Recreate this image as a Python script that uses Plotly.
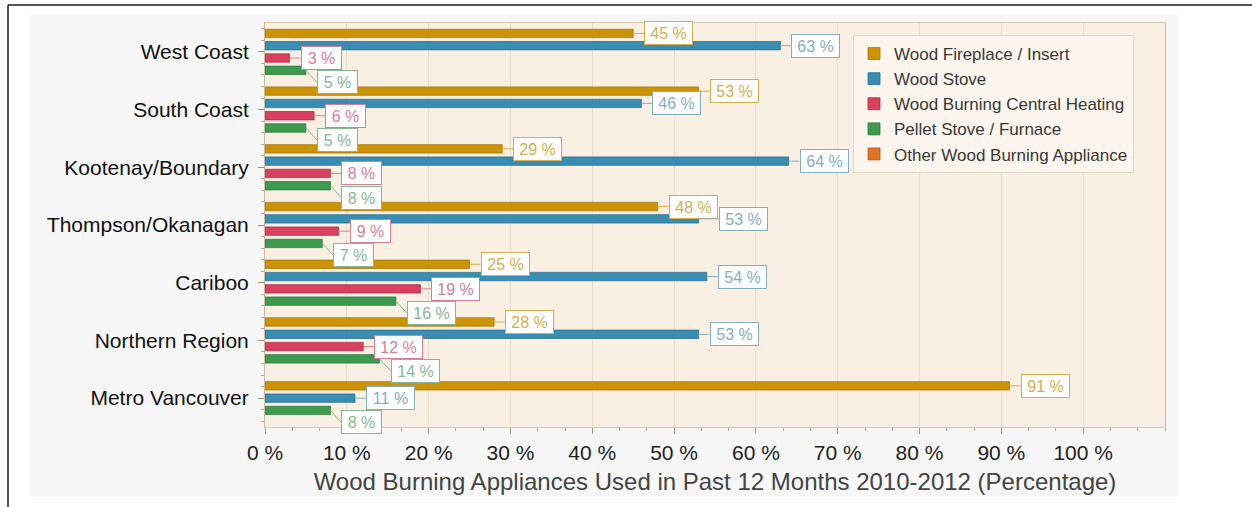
import plotly.graph_objects as go

# ---- data -------------------------------------------------------------
regions = [
    "West Coast",
    "South Coast",
    "Kootenay/Boundary",
    "Thompson/Okanagan",
    "Cariboo",
    "Northern Region",
    "Metro Vancouver",
]
fireplace = [45, 53, 29, 48, 25, 28, 91]
wood_stove = [63, 46, 64, 53, 54, 53, 11]
central_heating = [3, 6, 8, 9, 19, 12, None]
pellet = [5, 5, 8, 7, 16, 14, 8]
other = [None, None, None, None, None, None, None]

series_names = [
    "Wood Fireplace / Insert",
    "Wood Stove",
    "Wood Burning Central Heating",
    "Pellet Stove / Furnace",
    "Other Wood Burning Appliance",
]
series_values = [fireplace, wood_stove, central_heating, pellet, other]

x_tick_values = [0, 10, 20, 30, 40, 50, 60, 70, 80, 90, 100]
x_tick_labels = [f"{t} %" for t in x_tick_values]
x_title = "Wood Burning Appliances Used in Past 12 Months 2010-2012 (Percentage)"

# ---- styling ----------------------------------------------------------
bar_colors = ["#CC9306", "#3A8DB2", "#D93F5E", "#3E9A4F", "#E0702A"]
bar_edges = ["#A87A05", "#2D7392", "#B32F4B", "#2F7D3D", "#B85A20"]
label_colors = ["#D3AF4E", "#86AEC1", "#D4809A", "#88B596", "#E0A070"]
# how a value box moves when it would collide with a box above it
label_nudge = ["right", "right", "right", "down", "down"]

FONT = "Liberation Sans, Arial, sans-serif"
LABEL_SIZE = 16

W, H = 1252, 507
M_L, M_R, M_T, M_B = 265, 87, 23, 80
X_MAX = 110
plot_w = W - M_L - M_R
plot_h = H - M_T - M_B
px_per_x = plot_w / X_MAX
px_per_y = plot_h / len(regions)

SLOT = 0.213     # distance between neighbouring bars of one region (axis units)
BAR_W = 0.145    # bar thickness (axis units)


def paper_x(px):
    return (px - M_L) / plot_w


def paper_y(py):
    return (H - M_B - py) / plot_h


def text_width(s, size):
    # Arial/Liberation Sans advance widths for the characters used in value labels
    widths = {"%": 0.889, " ": 0.278}
    return sum(widths.get(ch, 0.556) for ch in s) * size


positions = list(range(len(regions)))

# bars present in a region are packed together and centred on the region
offsets = [[0.0] * len(regions) for _ in series_values]
centres = [[float(i) for i in positions] for _ in series_values]
for i in positions:
    present = [k for k, vals in enumerate(series_values) if vals[i] is not None]
    n = len(present)
    for slot, k in enumerate(present):
        c = (slot - (n - 1) / 2) * SLOT
        offsets[k][i] = c - BAR_W / 2
        centres[k][i] = i + c

fig = go.Figure()
for k, (name, vals) in enumerate(zip(series_names, series_values)):
    fig.add_trace(
        go.Bar(
            name=name,
            x=vals,
            y=positions,
            orientation="h",
            offset=offsets[k],
            width=BAR_W,
            marker=dict(color=bar_colors[k], line=dict(color=bar_edges[k], width=0.8)),
            hoverinfo="x+name",
        )
    )

# ---- value boxes ------------------------------------------------------
def overlaps(a, b):
    return a[0] < b[2] and b[0] < a[2] and a[1] < b[3] and b[1] < a[3]


annotations = []
BOX_H = 24
for i in positions:
    placed = []
    for k, vals in enumerate(series_values):
        v = vals[i]
        if v is None:
            continue
        text = f"{v} %"
        inner_w = round(text_width(text, LABEL_SIZE) + 9)
        box_w = inner_w + 4
        tip_x, tip_y = v * px_per_x, centres[k][i] * px_per_y
        ax, ay = 11, 0

        def box(ax, ay):
            return (tip_x + ax, tip_y + ay - BOX_H / 2,
                    tip_x + ax + box_w, tip_y + ay + BOX_H / 2)

        while any(overlaps(box(ax, ay), b) for b in placed):
            if label_nudge[k] == "down":
                ay += 1
            else:
                ax += 1
        placed.append(box(ax, ay))
        annotations.append(
            dict(
                x=v, y=centres[k][i], xref="x", yref="y",
                text=text, showarrow=True, arrowhead=0, arrowwidth=1,
                arrowcolor=label_colors[k], ax=ax, ay=ay,
                xanchor="left", yanchor="middle",
                bgcolor="#FFFFFF", bordercolor=label_colors[k],
                borderwidth=1, borderpad=1,
                width=inner_w, height=BOX_H - 4, align="center",
                font=dict(family=FONT, size=LABEL_SIZE, color=label_colors[k]),
            )
        )

# ---- page frame -------------------------------------------------------
frame = dict(color="#1E1E1E", width=1.5)
shapes = [
    # white margins around the light panel
    dict(type="rect", xref="paper", yref="paper", layer="below",
         x0=paper_x(0), x1=paper_x(W), y0=paper_y(0), y1=paper_y(14),
         fillcolor="#FFFFFF", line=dict(width=0)),
    dict(type="rect", xref="paper", yref="paper", layer="below",
         x0=paper_x(0), x1=paper_x(30), y0=paper_y(H), y1=paper_y(0),
         fillcolor="#FFFFFF", line=dict(width=0)),
    dict(type="rect", xref="paper", yref="paper", layer="below",
         x0=paper_x(0), x1=paper_x(W), y0=paper_y(H), y1=paper_y(497),
         fillcolor="#FFFFFF", line=dict(width=0)),
    dict(type="rect", xref="paper", yref="paper", layer="below",
         x0=paper_x(1178), x1=paper_x(W), y0=paper_y(H), y1=paper_y(0),
         fillcolor="#FFFFFF", line=dict(width=0)),
    dict(type="line", xref="paper", yref="paper",
         x0=paper_x(8), x1=paper_x(W), y0=paper_y(5), y1=paper_y(5), line=frame),
    dict(type="line", xref="paper", yref="paper",
         x0=paper_x(8), x1=paper_x(8), y0=paper_y(5), y1=paper_y(H), line=frame),
]

fig.update_layout(
    width=W,
    height=H,
    margin=dict(l=M_L, r=M_R, t=M_T, b=M_B, pad=0),
    autosize=False,
    barmode="overlay",
    paper_bgcolor="#F7F7F7",
    plot_bgcolor="#FAEFE3",
    font=dict(family=FONT, color="#222222"),
    showlegend=True,
    legend=dict(
        x=paper_x(853), y=paper_y(35), xanchor="left", yanchor="top",
        bgcolor="#FCF6EE", bordercolor="#E2D8C6", borderwidth=1,
        font=dict(family=FONT, size=17, color="#383838"),
        traceorder="normal", tracegroupgap=0,
    ),
    xaxis=dict(
        range=[0, X_MAX],
        tickmode="array",
        tickvals=x_tick_values,
        ticktext=x_tick_labels,
        showgrid=True, gridcolor="#EADFCC", gridwidth=1,
        zeroline=False,
        showline=True, linecolor="#D9CBB0", linewidth=1, mirror=True,
        ticks="outside", ticklen=6, tickcolor="#A89E8A",
        minor=dict(dtick=10 / 3, tick0=0, ticks="outside", ticklen=3,
                   tickcolor="#B5AB98", showgrid=False),
        tickfont=dict(family=FONT, size=21, color="#222222"),
        ticklabelstandoff=1,
        title=dict(text=x_title, standoff=9,
                   font=dict(family=FONT, size=24, color="#444444")),
        fixedrange=True,
    ),
    yaxis=dict(
        range=[len(regions) - 0.5, -0.5],
        tickmode="array",
        tickvals=positions,
        ticktext=regions,
        showgrid=False, zeroline=False,
        showline=True, linecolor="#C9BCA2", linewidth=1, mirror=True,
        ticks="outside", ticklen=6, tickcolor="#9A9080",
        minor=dict(dtick=0.2, tick0=0, ticks="outside", ticklen=3,
                   tickcolor="#B0A692", showgrid=False),
        tickfont=dict(family=FONT, size=21, color="#111111"),
        ticklabelstandoff=5,
        fixedrange=True,
    ),
    annotations=annotations,
    shapes=shapes,
)

fig.write_html("out.html")
